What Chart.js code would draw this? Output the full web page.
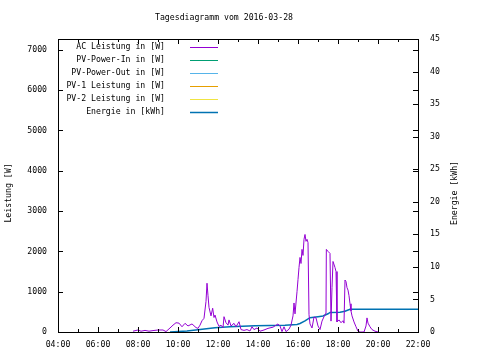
<!DOCTYPE html>
<html>
<head>
<meta charset="utf-8">
<script src="https://cdn.jsdelivr.net/npm/chart.js@4"></script>
<style>
  body { margin: 0; background: #fff; }
  #wrap { width: 480px; height: 360px; }
</style>
</head>
<body>
<div id="wrap"><canvas id="chart" width="480" height="360"></canvas></div>
<script>
// --- data ---
const chartTitle = 'Tagesdiagramm vom 2016-03-28';
const seriesNames = ['AC Leistung in [W]', 'PV-Power-In in [W]', 'PV-Power-Out in [W]',
                     'PV-1 Leistung in [W]', 'PV-2 Leistung in [W]', 'Energie in [kWh]'];
const seriesColors = ['#9400d3', '#009e73', '#56b4e9', '#e69f00', '#f0e442', '#0072b2'];

const acTimes = ['07:45','08:00','08:09','08:21','08:33','08:45','09:00','09:15','09:24','09:36',
  '09:45','09:54','10:03','10:12','10:21','10:30','10:42','10:54','11:00','11:06',
  '11:12','11:18','11:24','11:27','11:30','11:33','11:39','11:44','11:48','11:51',
  '11:57','12:03','12:09','12:15','12:18','12:24','12:30','12:33','12:39','12:48',
  '12:54','13:03','13:09','13:18','13:27','13:36','13:42','13:48','13:57','14:06',
  '14:18','14:30','14:45','15:00','15:06','15:12','15:18','15:24','15:33','15:39',
  '15:45','15:48','15:51','15:57','16:00','16:03','16:06','16:09','16:12','16:15',
  '16:18','16:21','16:24','16:27','16:30','16:33','16:36','16:42','16:48','16:54',
  '17:00','17:06','17:12','17:18','17:24','17:25','17:30','17:36','17:39','17:42',
  '17:45','17:51','17:54','17:57','18:03','18:09','18:15','18:18','18:21','18:24',
  '18:27','18:30','18:33','18:36','18:39','18:42','18:48','18:54','19:00','19:06',
  '19:18','19:24','19:27','19:30','19:36','19:42','19:51','20:00'];
const acValues = [20,50,20,40,20,35,50,50,10,100,
  170,230,220,130,215,150,200,110,90,170,
  280,340,760,1210,900,610,400,590,360,420,
  250,140,170,110,380,230,170,300,150,215,
  130,255,60,40,60,25,130,60,100,20,
  50,90,120,200,150,10,130,10,70,170,
  400,720,450,1000,1300,1600,1850,1700,2050,1900,
  2300,2420,2250,2300,2220,430,200,100,370,350,
  150,60,270,380,470,2050,2000,1950,270,1100,
  1750,1600,1500,250,300,230,280,220,1290,1250,
  1100,1040,900,700,520,400,250,130,20,0,
  0,150,350,220,130,60,20,0];

const energyTimes = ['09:36','10:27','11:06','11:51','12:36','13:51','15:21','15:57','16:06','16:21',
  '16:36','17:00','17:15','17:30','17:36','18:06','18:21','18:36','22:00'];
const energyValues = [0,0.15,0.4,0.65,0.8,0.95,1.05,1.15,1.3,1.7,
  2.2,2.35,2.45,2.8,3.0,3.05,3.2,3.5,3.5];

const hourTicks = [4,6,8,10,12,14,16,18,20,22];
const leftTicks = [0,1000,2000,3000,4000,5000,6000,7000];
const rightTicks = [0,5,10,15,20,25,30,35,40,45];
const leftTitle = 'Leistung [W]';
const rightTitle = 'Energie [kWh]';

const FONT = '8.2px "DejaVu Sans Mono"';
const toHour = s => { const [h, m] = s.split(':').map(Number); return h + m / 60; };
const pad2 = n => String(n).padStart(2, '0');

const datasets = seriesNames.map((name, i) => ({
  label: name,
  data: [],
  borderColor: seriesColors[i],
  borderWidth: 1,
  pointRadius: 0,
  fill: false,
  yAxisID: 'y'
}));
datasets[0].data = acTimes.map((t, i) => ({ x: toHour(t), y: acValues[i] }));
datasets[5].data = energyTimes.map((t, i) => ({ x: toHour(t), y: energyValues[i] }));
datasets[5].yAxisID = 'y2';
datasets[5].borderWidth = 1.5;

// gnuplot-like frame, inward ticks, title and legend
const gnuFrame = {
  id: 'gnuFrame',
  afterDatasetsDraw(chart) {
    const { ctx, chartArea: a, scales } = chart;
    ctx.save();
    ctx.strokeStyle = '#000';
    ctx.lineWidth = 1;
    ctx.strokeRect(a.left + 0.5, a.top + 0.5, a.right - a.left, a.bottom - a.top);
    ctx.beginPath();
    for (let h = 4; h <= 22; h++) {
      const x = Math.round(scales.x.getPixelForValue(h)) + 0.5;
      const len = h % 2 === 0 ? 5 : 3;
      ctx.moveTo(x, a.bottom); ctx.lineTo(x, a.bottom - len);
      ctx.moveTo(x, a.top); ctx.lineTo(x, a.top + len);
    }
    leftTicks.forEach(v => {
      const y = Math.round(scales.y.getPixelForValue(v)) + 0.5;
      ctx.moveTo(a.left, y); ctx.lineTo(a.left + 5, y);
      ctx.moveTo(a.right, y); ctx.lineTo(a.right - 5, y);
    });
    rightTicks.forEach(v => {
      const y = Math.round(scales.y2.getPixelForValue(v)) + 0.5;
      ctx.moveTo(a.right, y); ctx.lineTo(a.right - 5, y);
    });
    ctx.stroke();

    ctx.fillStyle = '#000';
    ctx.font = FONT;
    ctx.textBaseline = 'middle';
    ctx.textAlign = 'center';
    ctx.fillText(chartTitle, 224, 18);

    ctx.save();
    ctx.translate(9, 193);
    ctx.rotate(-Math.PI / 2);
    ctx.fillText(leftTitle, 0, 0);
    ctx.restore();
    ctx.save();
    ctx.translate(455, 193);
    ctx.rotate(-Math.PI / 2);
    ctx.fillText(rightTitle, 0, 0);
    ctx.restore();

    ctx.textAlign = 'right';
    seriesNames.forEach((name, i) => {
      const y = 47 + i * 13;
      ctx.fillStyle = '#000';
      ctx.fillText(name, 165, y);
      ctx.strokeStyle = seriesColors[i];
      ctx.lineWidth = i === 5 ? 1.5 : 1;
      ctx.beginPath();
      ctx.moveTo(190, Math.round(y) + 0.5);
      ctx.lineTo(218, Math.round(y) + 0.5);
      ctx.stroke();
    });
    ctx.restore();
  }
};

new Chart(document.getElementById('chart'), {
  type: 'line',
  data: { datasets },
  options: {
    responsive: false,
    animation: false,
    layout: { padding: { top: 39, left: 0, right: 0, bottom: 0 } },
    plugins: { legend: { display: false }, tooltip: { enabled: false } },
    scales: {
      x: {
        type: 'linear', min: 4, max: 22,
        afterBuildTicks: s => { s.ticks = hourTicks.map(v => ({ value: v })); },
        afterFit: s => { s.height = 28; },
        grid: { display: false, drawTicks: false },
        border: { display: false },
        ticks: { color: '#000', font: { family: 'DejaVu Sans Mono', size: 8.2 }, padding: 8,
                 maxRotation: 0, autoSkip: false, callback: v => pad2(v) + ':00' }
      },
      y: {
        position: 'left', min: 0, max: 7270,
        afterBuildTicks: s => { s.ticks = leftTicks.map(v => ({ value: v })); },
        afterFit: s => { s.width = 58; },
        grid: { display: false, drawTicks: false },
        border: { display: false },
        ticks: { color: '#000', font: { family: 'DejaVu Sans Mono', size: 8.2 }, padding: 11,
                 callback: v => String(v) }
      },
      y2: {
        position: 'right', min: 0, max: 45,
        afterBuildTicks: s => { s.ticks = rightTicks.map(v => ({ value: v })); },
        afterFit: s => { s.width = 62; },
        grid: { display: false, drawTicks: false },
        border: { display: false },
        ticks: { color: '#000', font: { family: 'DejaVu Sans Mono', size: 8.2 }, padding: 12,
                 callback: v => String(v) }
      }
    }
  },
  plugins: [gnuFrame]
});
</script>
</body>
</html>
